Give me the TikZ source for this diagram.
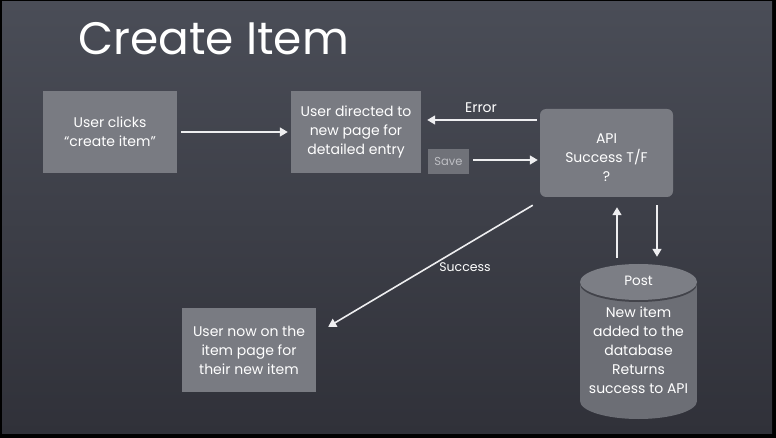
\documentclass[tikz,border=0pt]{standalone}
\usepackage{fontspec}
\setmainfont{Poppins}
\usetikzlibrary{arrows.meta,calc}
\definecolor{bgtop}{RGB}{74,77,87}
\definecolor{bgbot}{RGB}{48,49,57}
\definecolor{boxc}{RGB}{121,123,130}
\definecolor{savec}{RGB}{112,114,121}
\definecolor{savetext}{RGB}{190,191,196}
\definecolor{cylbody}{RGB}{108,110,117}
\definecolor{cyltop}{RGB}{124,126,133}
\definecolor{cylrim}{RGB}{66,67,74}
\definecolor{chalk}{RGB}{238,238,240}
\tikzset{
  box/.style={fill=boxc, text=white, align=center, inner sep=0pt,
    font=\fontsize{14}{19}\selectfont},
  arr/.style={draw=chalk, line width=1.6pt, -{Triangle[width=9pt,length=8pt]}},
  lbl/.style={text=white, font=\fontsize{12.5}{14}\selectfont, inner sep=0pt},
}
\begin{document}
\begin{tikzpicture}[x=1pt,y=-1pt]
\useasboundingbox (0,0) rectangle (776,438);
\fill[black] (0,0) rectangle (776,438);
\shade[top color=bgtop, bottom color=bgbot] (2,2) rectangle (772,433);

\node[anchor=base west, text=white, inner sep=0pt,
  font=\fontsize{45.5}{50}\selectfont] (title) at (78,55) {Create Item};

\node[box, minimum width=134pt, minimum height=82pt] (b1) at (110,132)
  {User clicks\\“create item”};
\node[box, minimum width=130pt, minimum height=82pt] (b2) at (356,132)
  {User directed to\\new page for\\detailed entry};
\node[fill=savec, text=savetext, inner sep=0pt, minimum width=41pt,
  minimum height=25pt, font=\fontsize{11.5}{13}\selectfont] (save) at (448.5,161.5) {Save};
\node[box, rounded corners=6pt, minimum width=133pt, minimum height=88pt] (api)
  at (606.5,153) {};
\node[text=white, align=center, inner sep=0pt,
  font=\fontsize{14}{19}\selectfont] (apitext) at (606.5,158) {API\\Success T/F\\?};
\node[box, minimum width=134pt, minimum height=84pt] (b3) at (249,350)
  {User now on the\\item page for\\their new item};

% database cylinder
\fill[cylbody] (580,282) rectangle (697,401);
\fill[cylbody] (638.5,401) ellipse [x radius=58.5, y radius=18];
\fill[cylrim] (638.5,284) ellipse [x radius=58.5, y radius=18];
\fill[cyltop] (638.5,282) ellipse [x radius=58.5, y radius=18];
\node[inner sep=0pt, minimum width=117pt, minimum height=155pt] (db) at (638.5,341.5) {};
\node[lbl, font=\fontsize{13.5}{14}\selectfont] (post) at (638.5,281) {Post};
\node[text=white, align=center, inner sep=0pt,
  font=\fontsize{14}{19}\selectfont] (dbtext) at (638.5,350)
  {New item\\added to the\\database\\Returns\\success to API};

% connectors
\draw[arr] ([xshift=4pt]b1.east) -- ([xshift=-3pt]b2.west);
\draw[arr] ([shift={(-3,-33)}]api.west) -- ([shift={(6,-12)}]b2.east);
\draw[arr] ([shift={(4,-1.5)}]save.east) -- ([shift={(-2,7)}]api.west);
\draw[arr] ([shift={(-7,8)}]api.south west) -- ([shift={(12,19)}]b3.north east);
\draw[arr] ([shift={(-21.5,-6)}]db.north) -- ([shift={(10.5,10)}]api.south);
\draw[arr] ([shift={(50.5,8)}]api.south) -- ([shift={(18.5,-7)}]db.north);

\node[lbl, font=\fontsize{14}{14}\selectfont] (err) at (481,108) {Error};
\node[lbl] (succ) at (465,267) {Success};
\end{tikzpicture}
\end{document}
